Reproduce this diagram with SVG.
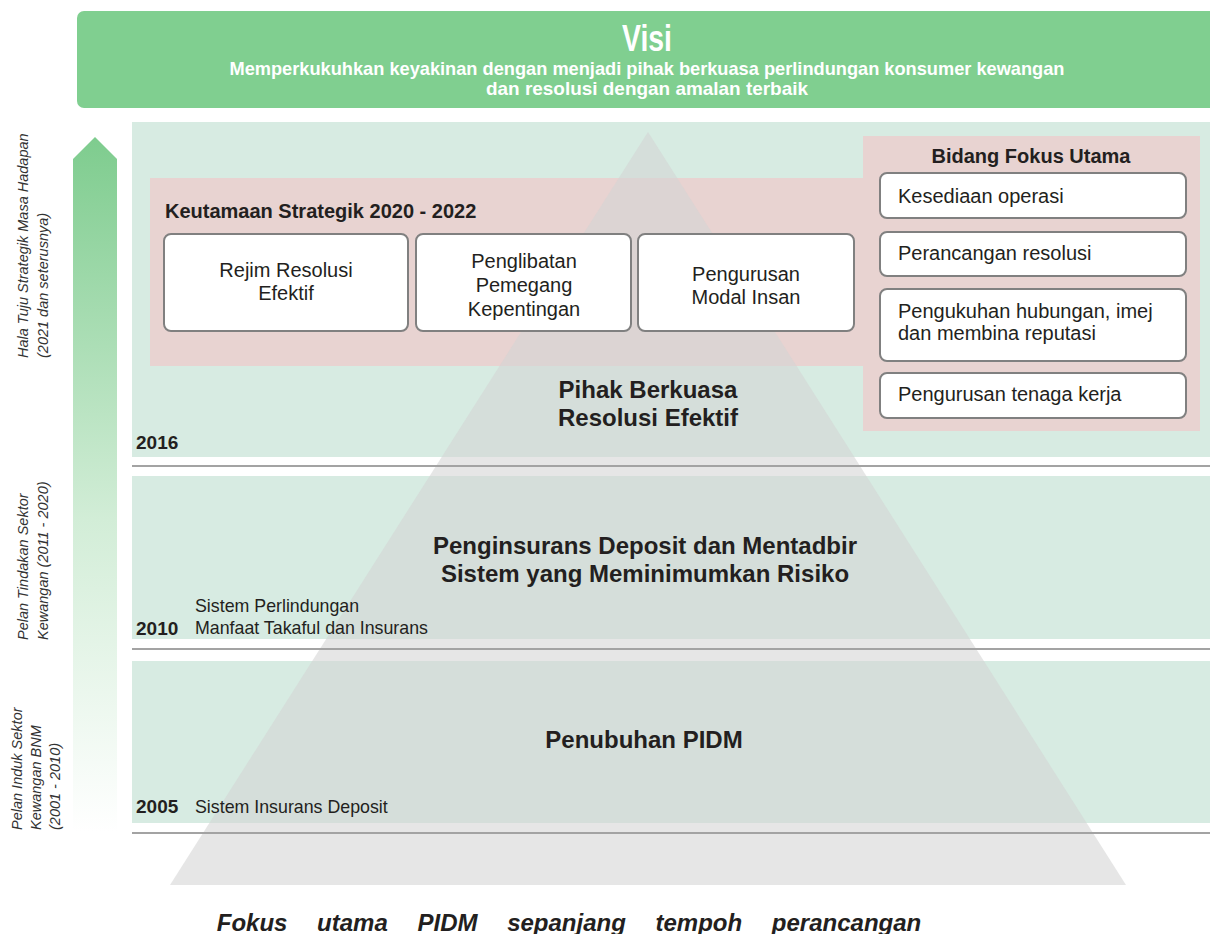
<svg xmlns="http://www.w3.org/2000/svg" width="1210" height="934" viewBox="0 0 1210 934">
<defs>
<linearGradient id="arrowGrad" x1="0" y1="0" x2="0" y2="1">
<stop offset="0" stop-color="#7ECC8E"/>
<stop offset="0.55" stop-color="#D2EDD7"/>
<stop offset="1" stop-color="#FFFFFF"/>
</linearGradient>
<style>
.band{fill:#D7EBE2}
.pink{fill:#E8D3D1}
.sep{stroke:#A3A3A3;stroke-width:2}
.box{fill:#FFFFFF;stroke:#808080;stroke-width:2}
.t{font-family:"Liberation Sans",Arial,sans-serif;fill:#231F20}
.b{font-weight:bold}
.side{font-family:"Liberation Sans",Arial,sans-serif;font-style:italic;font-size:14.5px;fill:#333333}
.w{font-family:"Liberation Sans",Arial,sans-serif;font-weight:bold;fill:#FFFFFF}
</style>
</defs>
<rect width="1210" height="934" fill="#FFFFFF"/>

<g id="visi">
<rect x="77" y="11" width="1150" height="97" rx="7" fill="#80CF90"/>
<text class="w" x="647" y="51" font-size="37" text-anchor="middle" textLength="50" lengthAdjust="spacingAndGlyphs">Visi</text>
<text class="w" x="647" y="75" font-size="19" text-anchor="middle" textLength="835" lengthAdjust="spacingAndGlyphs">Memperkukuhkan keyakinan dengan menjadi pihak berkuasa perlindungan konsumer kewangan</text>
<text class="w" x="647" y="95" font-size="19" text-anchor="middle" textLength="322" lengthAdjust="spacingAndGlyphs">dan resolusi dengan amalan terbaik</text>
</g>

<g id="timeline-arrow">
<polygon points="95,137 117,159 117,832 73,832 73,159" fill="url(#arrowGrad)"/>
</g>

<g id="side-labels">
<text class="side" transform="translate(28,358) rotate(-90)">Hala Tuju Strategik Masa Hadapan</text>
<text class="side" transform="translate(48,358) rotate(-90)">(2021 dan seterusnya)</text>
<text class="side" transform="translate(28,640) rotate(-90)">Pelan Tindakan Sektor</text>
<text class="side" transform="translate(48,640) rotate(-90)">Kewangan (2011 - 2020)</text>
<text class="side" transform="translate(22,830) rotate(-90)">Pelan Induk Sektor</text>
<text class="side" transform="translate(41,830) rotate(-90)">Kewangan BNM</text>
<text class="side" transform="translate(60,830) rotate(-90)">(2001 - 2010)</text>
</g>

<g id="bands">
<rect class="band" x="132" y="122" width="1078" height="335"/>
<rect class="band" x="132" y="476" width="1078" height="163"/>
<rect class="band" x="132" y="661" width="1078" height="162"/>
</g>

<g id="pink-areas">
<rect class="pink" x="150" y="178" width="714" height="188"/>
<rect class="pink" x="863" y="136" width="337" height="295"/>
</g>

<g id="pyramid">
<polygon points="648,132 1126,885 170,885" fill="#D4D4D4" fill-opacity="0.58"/>
</g>

<g id="separators">
<line class="sep" x1="132" y1="466" x2="1210" y2="466"/>
<line class="sep" x1="132" y1="649" x2="1210" y2="649"/>
<line class="sep" x1="132" y1="833" x2="1210" y2="833"/>
</g>

<g id="keutamaan">
<text class="t b" x="165" y="218" font-size="20">Keutamaan Strategik 2020 - 2022</text>
</g>
<g id="box-rejim">
<rect class="box" x="164" y="234" width="244" height="97" rx="7"/>
<text class="t" x="286" y="277" font-size="20" text-anchor="middle">Rejim Resolusi</text>
<text class="t" x="286" y="300" font-size="20" text-anchor="middle">Efektif</text>
</g>
<g id="box-penglibatan">
<rect class="box" x="416" y="234" width="215" height="97" rx="7"/>
<text class="t" x="524" y="268" font-size="20" text-anchor="middle">Penglibatan</text>
<text class="t" x="524" y="292" font-size="20" text-anchor="middle">Pemegang</text>
<text class="t" x="524" y="316" font-size="20" text-anchor="middle">Kepentingan</text>
</g>
<g id="box-pengurusan">
<rect class="box" x="638" y="234" width="216" height="97" rx="7"/>
<text class="t" x="746" y="281" font-size="20" text-anchor="middle">Pengurusan</text>
<text class="t" x="746" y="304" font-size="20" text-anchor="middle">Modal Insan</text>
</g>

<g id="bidang">
<text class="t b" x="1031" y="163" font-size="20" text-anchor="middle">Bidang Fokus Utama</text>
</g>
<g id="box-kesediaan">
<rect class="box" x="880" y="173" width="306" height="45" rx="7"/>
<text class="t" x="898" y="203" font-size="20">Kesediaan operasi</text>
</g>
<g id="box-perancangan">
<rect class="box" x="880" y="232" width="306" height="44" rx="7"/>
<text class="t" x="898" y="260" font-size="20">Perancangan resolusi</text>
</g>
<g id="box-pengukuhan">
<rect class="box" x="880" y="289" width="306" height="72" rx="7"/>
<text class="t" x="898" y="318" font-size="20">Pengukuhan hubungan, imej</text>
<text class="t" x="898" y="340" font-size="20">dan membina reputasi</text>
</g>
<g id="box-tenaga">
<rect class="box" x="880" y="373" width="306" height="45" rx="7"/>
<text class="t" x="898" y="401" font-size="20">Pengurusan tenaga kerja</text>
</g>

<g id="level-2016">
<text class="t b" x="648" y="398" font-size="24" text-anchor="middle">Pihak Berkuasa</text>
<text class="t b" x="648" y="426" font-size="24" text-anchor="middle">Resolusi Efektif</text>
<text class="t b" x="136" y="449" font-size="19">2016</text>
</g>

<g id="level-2010">
<text class="t b" x="645" y="554" font-size="24" text-anchor="middle">Penginsurans Deposit dan Mentadbir</text>
<text class="t b" x="645" y="582" font-size="24" text-anchor="middle">Sistem yang Meminimumkan Risiko</text>
<text class="t b" x="136" y="635" font-size="19">2010</text>
<text class="t" x="195" y="612" font-size="17.8">Sistem Perlindungan</text>
<text class="t" x="195" y="634" font-size="17.8">Manfaat Takaful dan Insurans</text>
</g>

<g id="level-2005">
<text class="t b" x="644" y="748" font-size="24" text-anchor="middle">Penubuhan PIDM</text>
<text class="t b" x="136" y="813" font-size="19">2005</text>
<text class="t" x="195" y="813" font-size="17.8">Sistem Insurans Deposit</text>
</g>

<g id="caption">
<text class="t b" x="569" y="931" font-size="24" font-style="italic" text-anchor="middle" word-spacing="23">Fokus utama PIDM sepanjang tempoh perancangan</text>
</g>
</svg>
